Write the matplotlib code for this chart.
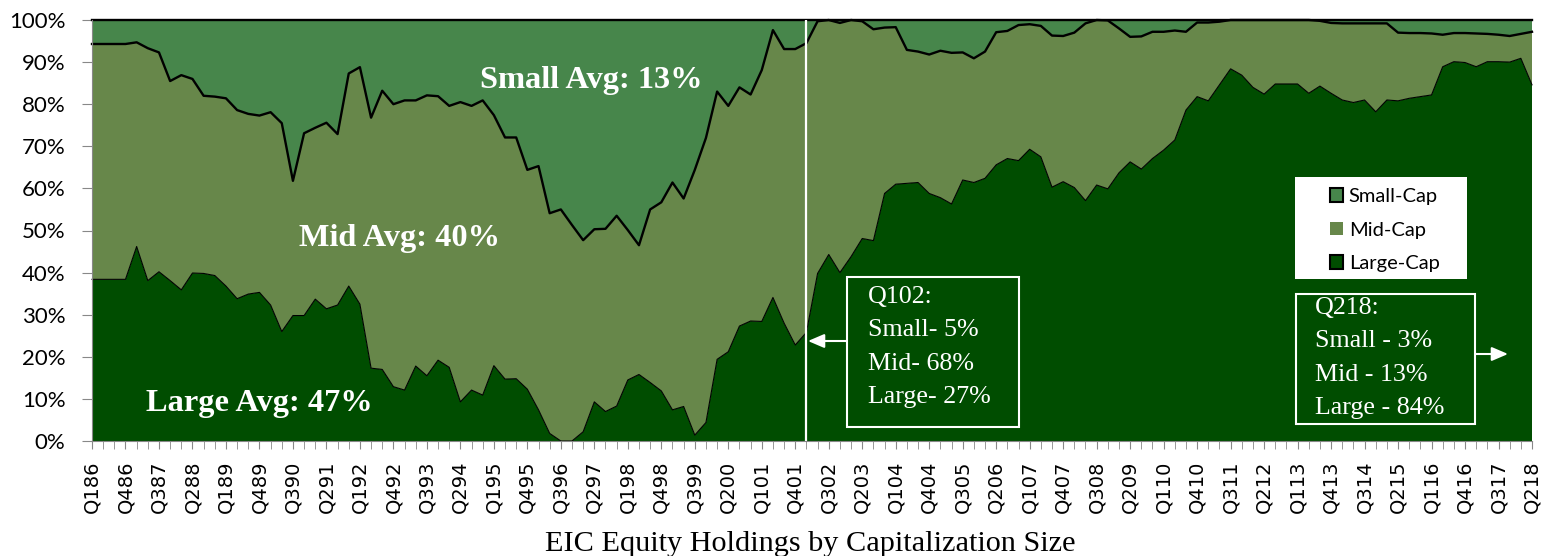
import numpy as np
import matplotlib.pyplot as plt
from matplotlib.patches import Patch, Rectangle

# quarterly shares (%), Q1 1986 .. Q2 2018
large_cap = [38.4, 38.4, 38.4, 38.4, 46.2, 38.1, 40.2, 38.1, 35.9, 39.9,
             39.8, 39.3, 36.8, 33.8, 34.9, 35.3, 32.3, 26.0, 29.8, 29.8,
             33.7, 31.4, 32.3, 36.8, 32.5, 17.3, 17.0, 12.9, 12.1, 17.8,
             15.5, 19.2, 17.5, 9.3, 12.1, 10.9, 17.9, 14.7, 14.8, 12.3,
             7.4, 1.8, 0.0, 0.0, 2.2, 9.3, 7.0, 8.3, 14.5, 15.8,
             13.9, 11.9, 7.4, 8.2, 1.4, 4.4, 19.4, 21.2, 27.3, 28.5,
             28.4, 34.1, 28.0, 22.8, 25.8, 39.8, 44.3, 40.0, 43.8, 48.1,
             47.6, 58.8, 61.0, 61.2, 61.4, 58.8, 57.8, 56.3, 62.0, 61.4,
             62.4, 65.6, 67.1, 66.6, 69.3, 67.5, 60.3, 61.6, 60.2, 57.1,
             60.8, 59.9, 63.7, 66.3, 64.6, 67.1, 69.1, 71.5, 78.6, 81.8,
             80.8, 84.6, 88.4, 86.9, 84.0, 82.4, 84.8, 84.8, 84.8, 82.6,
             84.3, 82.6, 81.0, 80.4, 81.0, 78.2, 81.0, 80.8, 81.4, 81.8,
             82.2, 88.9, 90.1, 89.9, 88.9, 90.1, 90.1, 90.0, 90.9, 84.6]

small_cap = [5.7, 5.7, 5.7, 5.7, 5.3, 6.7, 7.7, 14.5, 13.1, 14.0,
             18.0, 18.2, 18.6, 21.4, 22.3, 22.7, 21.9, 24.5, 38.2, 26.9,
             25.6, 24.4, 27.1, 12.7, 11.2, 23.2, 16.8, 20.0, 19.1, 19.1,
             17.9, 18.1, 20.4, 19.5, 20.4, 19.1, 22.6, 27.9, 27.9, 35.6,
             34.7, 45.9, 45.0, 48.7, 52.3, 49.7, 49.6, 46.5, 49.9, 53.5,
             45.0, 43.3, 38.6, 42.4, 35.6, 28.0, 17.0, 20.4, 16.0, 17.7,
             11.9, 2.4, 6.9, 6.9, 5.5, 0.3, 0.0, 0.7, 0.0, 0.3,
             2.2, 1.8, 1.7, 7.1, 7.5, 8.2, 7.3, 7.8, 7.7, 9.1,
             7.5, 2.9, 2.6, 1.2, 1.0, 1.4, 3.7, 3.8, 3.0, 0.8,
             0.0, 0.1, 2.0, 4.0, 3.9, 2.8, 2.8, 2.5, 2.8, 0.6,
             0.6, 0.4, 0.0, 0.0, 0.0, 0.0, 0.0, 0.0, 0.0, 0.0,
             0.2, 0.7, 0.8, 0.8, 0.8, 0.8, 0.8, 3.0, 3.1, 3.1,
             3.2, 3.5, 3.1, 3.1, 3.2, 3.3, 3.5, 3.8, 3.3, 2.8]

large = np.array(large_cap)
small = np.array(small_cap)
mid = 100 - large - small

quarters = [f"Q{i % 4 + 1}{(86 + i // 4) % 100:02d}" for i in range(len(large))]
x = np.arange(len(quarters))

c_small = '#47864B'
c_mid = '#67874A'
c_large = '#004D00'
grey = '#888888'
serif = 'Liberation Serif'

fig = plt.figure(figsize=(15.43, 5.56), dpi=100)
ax = fig.add_axes([92 / 1543, 1 - 441 / 556, 1440 / 1543, 421 / 556])

ax.stackplot(x, large, mid, small, colors=[c_large, c_mid, c_small], lw=0)
ax.plot(x, large, color='black', lw=0.8, clip_on=False)
ax.plot(x, large + mid, color='black', lw=1.7, clip_on=False)
ax.plot(x, large + mid + small, color='black', lw=1.7, clip_on=False)
ax.axvline(quarters.index('Q102'), color='white', lw=1.6)

ax.set_xlim(0, len(x) - 1)
ax.set_ylim(0, 100)
ax.set_yticks(np.arange(0, 101, 10))
ax.set_yticklabels([f"{v}%" for v in range(0, 101, 10)], family='Lato', fontsize=16)
ax.set_xticks(x[::3])
ax.set_xticklabels(quarters[::3], rotation=90, family='DejaVu Sans', fontsize=14)
ax.set_xticks(x, minor=True)
ax.tick_params(axis='y', length=7, color=grey, pad=12)
ax.tick_params(axis='x', which='both', length=6, color=grey, pad=8)
for s in ['top', 'right']:
    ax.spines[s].set_visible(False)
for s in ['left', 'bottom']:
    ax.spines[s].set_color(grey)

# average labels
bold = dict(color='white', fontsize=23.3, fontweight='bold', family=serif,
            ha='center', va='center', transform=ax.transAxes, zorder=6)
ax.text(0.347, 0.857, 'Small Avg: 13%', **bold)
ax.text(0.2135, 0.480, 'Mid Avg: 40%', **bold)
ax.text(0.116, 0.090, 'Large Avg: 47%', **bold)

# call-out boxes
boxes = [((847, 277, 1019, 427), (868, 347), 'Q102:\nSmall- 5%\nMid- 68%\nLarge- 27%',
          (847, 808, 341)),
         ((1296, 294, 1475, 424), (1315, 358), 'Q218:\nSmall - 3%\nMid - 13%\nLarge - 84%',
          (1475, 1508, 354))]
fx = lambda px: (px - 92) / 1440
fy = lambda py: (441 - py) / 421
for (l, t, r, b), (tx, ty), txt, (a0, a1, ay) in boxes:
    ax.add_patch(Rectangle((fx(l), fy(b)), fx(r) - fx(l), fy(t) - fy(b),
                           transform=ax.transAxes, facecolor=c_large,
                           edgecolor='white', lw=1.5, zorder=5))
    ax.text(fx(tx), fy(ty), txt, color='white', fontsize=18.7, family=serif,
            ha='left', va='center', linespacing=1.66, transform=ax.transAxes, zorder=6)
    ax.annotate('', xy=(fx(a1), fy(ay)), xytext=(fx(a0), fy(ay)),
                xycoords='axes fraction',
                arrowprops=dict(arrowstyle='-|>,head_length=0.7,head_width=0.3',
                                color='white', lw=1.5, mutation_scale=14,
                                shrinkA=0, shrinkB=0), zorder=6)

# legend
ax.add_patch(Rectangle((fx(1295), fy(279)), fx(1467) - fx(1295), fy(177) - fy(279),
                       transform=ax.transAxes, facecolor='white', edgecolor='none', zorder=5))
handles = [Patch(facecolor=c_small, edgecolor='black', lw=1.5, label='Small-Cap'),
           Patch(facecolor=c_mid, edgecolor='none', label='Mid-Cap'),
           Patch(facecolor=c_large, edgecolor='black', lw=1.5, label='Large-Cap')]
leg = ax.legend(handles=handles, loc='upper left', bbox_to_anchor=(fx(1330), fy(188)),
                frameon=False, borderpad=0, borderaxespad=0, handlelength=0.67,
                handleheight=0.67, handletextpad=0.26, labelspacing=0.82,
                prop={'family': 'Lato', 'size': 14.5})
leg.set_zorder(7)

fig.text(810 / 1543, 1 - 544 / 556, 'EIC Equity Holdings by Capitalization Size',
         ha='center', va='center', fontsize=21.8, family=serif)

fig.savefig('out.png', dpi=100)
